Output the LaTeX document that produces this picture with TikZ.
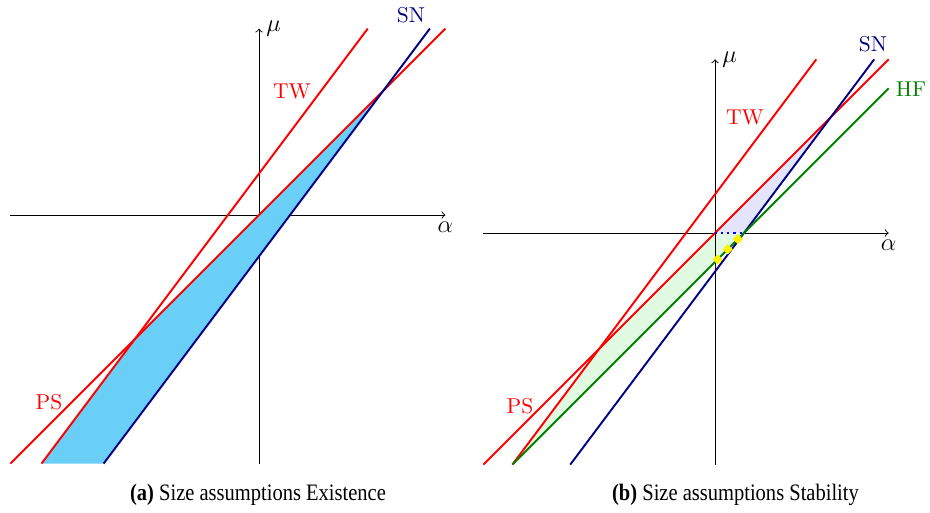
\documentclass[tikz,border=0pt]{standalone}
\usepackage{fontspec}
\newfontfamily\capfont[FakeStretch=0.87]{Liberation Serif}
\definecolor{navy}{RGB}{0,0,128}
\definecolor{hfgreen}{RGB}{0,128,0}
\definecolor{fillblue}{RGB}{106,207,246}
\definecolor{lav}{RGB}{228,228,252}
\definecolor{lgreen}{RGB}{226,250,226}
\begin{document}
\begin{tikzpicture}[x=0.4878pt,y=-0.4878pt,
  curve/.style={line width=0.95pt},
  axis/.style={line width=0.45pt,->},
  mlabel/.style={font=\fontsize{11.5}{13}\selectfont},
  lbl/.style={font=\fontsize{10.5}{12}\selectfont},
  caption/.style={anchor=base,font=\capfont\fontsize{11.5}{13}\selectfont}]
\useasboundingbox (0,0) rectangle (930,512);

% ---------------- panel (a) ----------------
\begin{scope}[shift={(259,215)},x=30.31pt,y=30.31pt]
  \coordinate (aO) at (0,0);
  \coordinate (aXl) at (-4,0); \coordinate (aXr) at (3,0);
  \coordinate (aYb) at (0,-4); \coordinate (aYt) at (0,3);
  \coordinate (aPSb) at (-4,-4); \coordinate (aPSt) at (3,3);
  \coordinate (aTWb) at (-3.5,-4); \coordinate (aTWt) at (1.75,3);
  \coordinate (aSNb) at (-2.5,-4); \coordinate (aSNt) at (2.75,3);
  \coordinate (aP1) at (-2,-2); \coordinate (aP2) at (2,2);
  \draw[axis] (aXl) -- (aXr) node[below,mlabel] (aAlpha) {$\alpha$};
  \draw[axis] (aYb) -- (aYt) node[right,mlabel] (aMu) {$\mu$};
  \fill[fillblue] (aTWb) -- (aP1) -- (aP2) -- (aSNb) -- cycle;
  \draw[curve,red] (aPSb) -- (aPSt);
  \draw[curve,red] (aTWb) -- (aTWt);
  \draw[curve,navy] (aSNb) -- (aSNt);
\end{scope}
\node[red,lbl] (aTW) at (292,91) {TW};
\node[navy,lbl] (aSN) at (411,15) {SN};
\node[red,lbl] (aPS) at (49,402) {PS};
\node[caption] (capa) at (258,500) {\textbf{(a)} Size assumptions Existence};

% ---------------- panel (b) ----------------
\begin{scope}[shift={(715,233)},x=28.24pt,y=28.24pt]
  \coordinate (bO) at (0,0);
  \coordinate (bXl) at (-4,0); \coordinate (bXr) at (3,0);
  \coordinate (bYb) at (0,-4); \coordinate (bYt) at (0,3);
  \coordinate (bPSb) at (-4,-4); \coordinate (bPSt) at (3,3);
  \coordinate (bTWb) at (-3.5,-4); \coordinate (bTWt) at (1.75,3);
  \coordinate (bSNb) at (-2.5,-4); \coordinate (bSNt) at (2.75,3);
  \coordinate (bHFb) at (-3.5,-4); \coordinate (bHFt) at (3,2.5);
  \coordinate (bP1) at (-2,-2); \coordinate (bP2) at (2,2);
  \coordinate (bH) at (0.5,0); \coordinate (bHy) at (0,-0.5);
  \draw[axis] (bXl) -- (bXr) node[below,mlabel] (bAlpha) {$\alpha$};
  \fill[lav] (bO) -- (bP2) -- (bH) -- cycle;
  \fill[lgreen] (bTWb) -- (bP1) -- (bO) -- (bH) -- cycle;
  \draw[axis] (bYb) -- (bYt) node[right,mlabel] (bMu) {$\mu$};
  \draw[curve,red] (bPSb) -- (bPSt);
  \draw[curve,red] (bTWb) -- (bTWt);
  \draw[curve,navy] (bSNb) -- (bSNt);
  \draw[curve,hfgreen] (bHFb) -- (bHFt);
  \draw[blue,line width=1pt,dotted] (bO) -- (bH);
  \draw[yellow,line width=3.5pt,dash pattern=on 3.5pt off 3.5pt] (bHy) -- (bH);
\end{scope}
\node[red,lbl] (bTW) at (745,117) {TW};
\node[navy,lbl] (bSN) at (873,44) {SN};
\node[hfgreen,lbl] (bHF) at (911,89) {HF};
\node[red,lbl] (bPS) at (520,406) {PS};
\node[caption] (capb) at (735.5,500) {\textbf{(b)} Size assumptions Stability};
\end{tikzpicture}
\end{document}
